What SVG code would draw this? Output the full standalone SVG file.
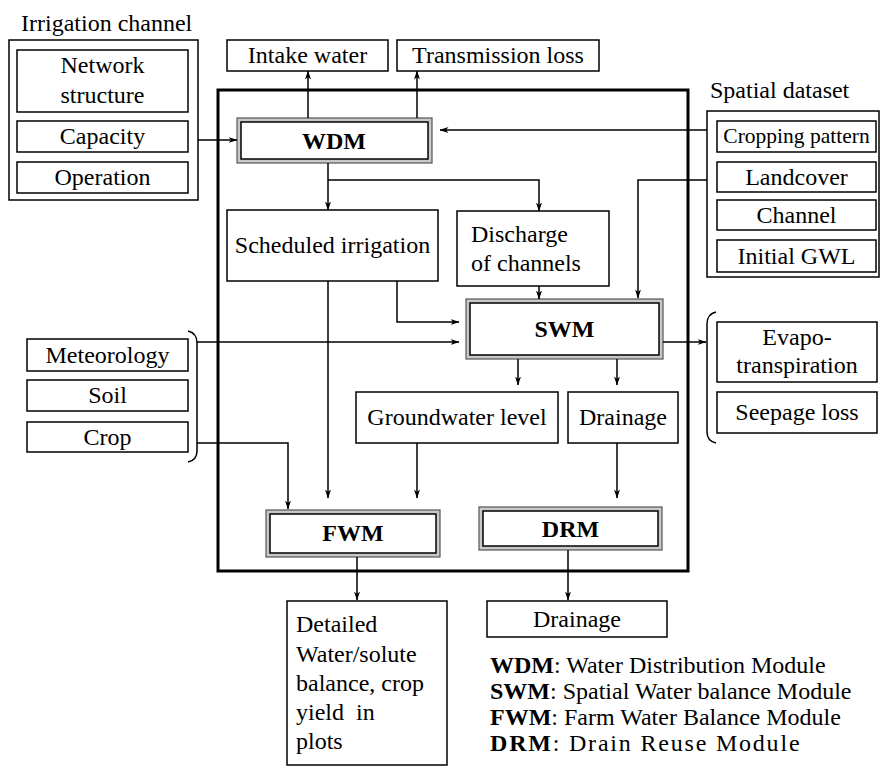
<svg xmlns="http://www.w3.org/2000/svg" width="880" height="774" viewBox="0 0 880 774" font-family="Liberation Serif, serif">
<defs>
<marker id="ah" markerWidth="9" markerHeight="7" refX="8.5" refY="3.5" orient="auto" markerUnits="userSpaceOnUse">
<path d="M0,0.5 L9,3.5 L0,6.5 L2.5,3.5 z" fill="#000"/>
</marker>
</defs>
<style>
text{font-size:24px;fill:#000}
.c{text-anchor:middle}
.b{font-weight:bold}
.box{fill:#fff;stroke:#000;stroke-width:1.5}
.grp{fill:none;stroke:#000;stroke-width:1.5}
.mo{fill:#c8c8c8;stroke:#555;stroke-width:1.2}
.mi{fill:#fff;stroke:#000;stroke-width:1.5}
.main{fill:none;stroke:#000;stroke-width:3}
.ln{fill:none;stroke:#000;stroke-width:1.5}
.ar{fill:none;stroke:#000;stroke-width:1.5;marker-end:url(#ah)}
.sm{font-size:21.5px}
</style>
<rect width="880" height="774" fill="#fff"/>

<rect class="main" x="218" y="90" width="470" height="481"/>

<g id="irrigation-channel">
<text x="21" y="31">Irrigation channel</text>
<rect class="grp" x="9" y="40" width="189" height="160"/>
<rect class="box" x="17" y="50" width="171" height="62"/>
<text class="c" x="102.5" y="73">Network</text>
<text class="c" x="102.5" y="103">structure</text>
<rect class="box" x="17" y="121" width="171" height="31"/>
<text class="c" x="102.5" y="144">Capacity</text>
<rect class="box" x="17" y="162" width="171" height="31"/>
<text class="c" x="102.5" y="185">Operation</text>
</g>

<g id="intake-water">
<rect class="box" x="227" y="40" width="161" height="31"/>
<text class="c" x="307.5" y="63">Intake water</text>
</g>
<g id="transmission-loss">
<rect class="box" x="397" y="40" width="202" height="31"/>
<text class="c" x="498" y="63">Transmission loss</text>
</g>

<g id="spatial-dataset">
<text x="710" y="98">Spatial dataset</text>
<rect class="grp" x="707" y="111" width="172" height="166"/>
<rect class="box" x="717" y="121" width="159" height="31"/>
<text class="c sm" x="796.5" y="143">Cropping pattern</text>
<rect class="box" x="717" y="162" width="159" height="30"/>
<text class="c" x="796.5" y="185">Landcover</text>
<rect class="box" x="717" y="200" width="159" height="30"/>
<text class="c" x="796.5" y="223">Channel</text>
<rect class="box" x="717" y="240" width="159" height="32"/>
<text class="c" x="796.5" y="264">Initial GWL</text>
</g>

<g id="WDM">
<rect class="mo" x="237" y="118" width="195" height="45"/>
<rect class="mi" x="241" y="122" width="187" height="37"/>
<text class="c b" x="334" y="149">WDM</text>
</g>

<g id="scheduled-irrigation">
<rect class="box" x="227" y="210" width="211" height="71"/>
<text class="c" x="332.5" y="253">Scheduled irrigation</text>
</g>

<g id="discharge">
<rect class="box" x="457" y="211" width="152" height="75"/>
<text x="471" y="242">Discharge</text>
<text x="471" y="271">of channels</text>
</g>

<g id="SWM">
<rect class="mo" x="466" y="299" width="197" height="60"/>
<rect class="mi" x="470" y="303" width="189" height="52"/>
<text class="c b" x="564.5" y="337">SWM</text>
</g>

<g id="weather-soil-crop">
<rect class="box" x="27" y="339" width="161" height="32"/>
<text class="c" x="107.5" y="363">Meteorology</text>
<rect class="box" x="27" y="380" width="161" height="31"/>
<text class="c" x="107.5" y="403">Soil</text>
<rect class="box" x="27" y="422" width="161" height="30"/>
<text class="c" x="107.5" y="445">Crop</text>
<path class="ln" d="M188,331 Q197,333 197,343 L197,451 Q197,460 188,462"/>
</g>

<g id="outputs-right">
<path class="ln" d="M716,312 Q707,314 707,324 L707,432 Q707,441 716,443"/>
<rect class="box" x="717" y="322" width="160" height="60"/>
<text class="c" x="797" y="345">Evapo-</text>
<text class="c" x="797" y="373">transpiration</text>
<rect class="box" x="717" y="392" width="160" height="41"/>
<text class="c" x="797" y="420">Seepage loss</text>
</g>

<g id="groundwater-level">
<rect class="box" x="356" y="392" width="202" height="51"/>
<text class="c" x="457" y="425">Groundwater level</text>
</g>
<g id="drainage-inner">
<rect class="box" x="568" y="392" width="110" height="51"/>
<text class="c" x="623" y="425">Drainage</text>
</g>

<g id="FWM">
<rect class="mo" x="266" y="510" width="174" height="47"/>
<rect class="mi" x="270" y="514" width="166" height="39"/>
<text class="c b" x="353" y="541">FWM</text>
</g>
<g id="DRM">
<rect class="mo" x="479" y="507" width="183" height="43"/>
<rect class="mi" x="483" y="511" width="175" height="35"/>
<text class="c b" x="570.5" y="537">DRM</text>
</g>

<g id="detailed">
<rect class="box" x="287" y="601" width="160" height="164"/>
<text x="296" y="632">Detailed</text>
<text x="296" y="662">Water/solute</text>
<text x="296" y="691">balance, crop</text>
<text x="296" y="720" xml:space="preserve">yield  in</text>
<text x="296" y="749">plots</text>
</g>
<g id="drainage-out">
<rect class="box" x="487" y="601" width="180" height="36"/>
<text class="c" x="577" y="627">Drainage</text>
</g>

<g id="legend">
<text x="490" y="673"><tspan class="b">WDM</tspan>: Water Distribution Module</text>
<text x="490" y="699"><tspan class="b">SWM</tspan>: Spatial Water balance Module</text>
<text x="490" y="725"><tspan class="b">FWM</tspan>: Farm Water Balance Module</text>
<text x="490" y="751" letter-spacing="1.8"><tspan class="b">DRM</tspan>: Drain Reuse Module</text>
</g>

<g id="connectors">
<path class="ar" d="M198,140 L237,140"/>
<path class="ar" d="M308,118 L308,71"/>
<path class="ar" d="M417,118 L417,71"/>
<path class="ar" d="M707,130 L440,130"/>
<path class="ar" d="M328,163 L328,210"/>
<path class="ar" d="M328,180 L539,180 L539,211"/>
<path class="ar" d="M707,180 L638,180 L638,298"/>
<path class="ar" d="M539,286 L539,299"/>
<path class="ar" d="M397,281 L397,322 L459,322"/>
<path class="ar" d="M197,342 L459,342"/>
<path class="ar" d="M328,281 L328,498"/>
<path class="ar" d="M197,443 L288,443 L288,509"/>
<path class="ar" d="M518,359 L518,385"/>
<path class="ar" d="M617,359 L617,385"/>
<path class="ar" d="M417,443 L417,498"/>
<path class="ar" d="M617,443 L617,498"/>
<path class="ar" d="M663,342 L706,342"/>
<path class="ar" d="M357,557 L357,600"/>
<path class="ar" d="M568,550 L568,600"/>
</g>
</svg>
